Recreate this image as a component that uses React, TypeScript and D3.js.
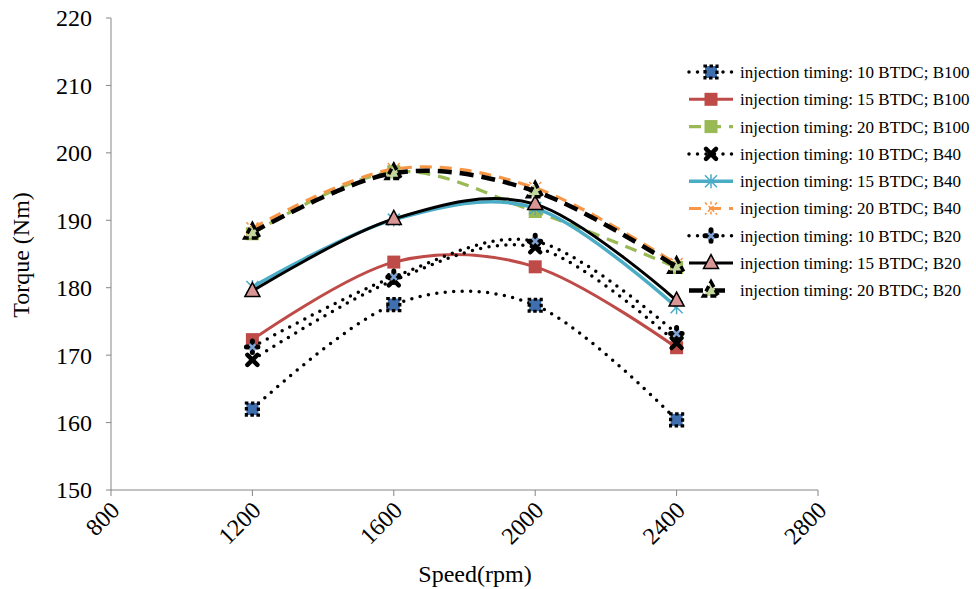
import React from "react";
import * as d3 from "d3";

const speeds = [1200, 1600, 2000, 2400];
const xTicks = [800, 1200, 1600, 2000, 2400, 2800];
const yTicks = [150, 160, 170, 180, 190, 200, 210, 220];

const t10B100 = [162.0, 177.5, 177.4, 160.4];
const t15B100 = [172.3, 183.8, 183.1, 171.1];
const t20B100 = [188.0, 197.2, 191.3, 183.0];
const t10B40 = [169.3, 181.1, 186.0, 171.8];
const t15B40 = [180.1, 190.1, 191.8, 177.1];
const t20B40 = [188.8, 197.6, 194.8, 183.5];
const t10B20 = [171.2, 181.6, 186.9, 173.2];
const t15B20 = [179.5, 190.2, 192.4, 178.1];
const t20B20 = [188.2, 197.0, 194.3, 183.1];

const seriesNames = [
  "injection timing: 10 BTDC; B100",
  "injection timing: 15 BTDC; B100",
  "injection timing: 20 BTDC; B100",
  "injection timing: 10 BTDC; B40",
  "injection timing: 15 BTDC; B40",
  "injection timing: 20 BTDC; B40",
  "injection timing: 10 BTDC; B20",
  "injection timing: 15 BTDC; B20",
  "injection timing: 20 BTDC; B20",
];

type Style = {
  color: string;
  width: number;
  dash: string;
  cap: "round" | "butt";
  marker: string;
};

const styles: Style[] = [
  { color: "#000", width: 3.5, dash: "0 8.5", cap: "round", marker: "sqDot" },
  { color: "#BE4B48", width: 3, dash: "", cap: "butt", marker: "sqRed" },
  { color: "#98B954", width: 3.2, dash: "12 8", cap: "butt", marker: "sqGreen" },
  { color: "#000", width: 3.5, dash: "0 8.5", cap: "round", marker: "xBlack" },
  { color: "#4AACC5", width: 3.5, dash: "", cap: "butt", marker: "starCyan" },
  { color: "#F79646", width: 3.2, dash: "12 8", cap: "butt", marker: "starOrange" },
  { color: "#000", width: 3.5, dash: "0 8.5", cap: "round", marker: "plusDot" },
  { color: "#000", width: 3, dash: "", cap: "butt", marker: "triPink" },
  { color: "#000", width: 4.5, dash: "14 8", cap: "butt", marker: "triDash" },
];

const data = [t10B100, t15B100, t20B100, t10B40, t15B40, t20B40, t10B20, t15B20, t20B20];

const x = d3.scaleLinear().domain([800, 2800]).range([111, 818]);
const y = d3.scaleLinear().domain([150, 220]).range([490, 18]);

const lineGen = d3
  .line<[number, number]>()
  .x((d) => x(d[0]))
  .y((d) => y(d[1]))
  .curve(d3.curveCardinal.tension(0));

function Marker({ type, cx, cy }: { type: string; cx: number; cy: number }) {
  switch (type) {
    case "sqDot":
      return (
        <g>
          <rect x={cx - 6} y={cy - 6} width={12} height={12} fill="#3F6FAE" />
          <rect x={cx - 6} y={cy - 6} width={12} height={12} fill="none" stroke="#000" strokeWidth={3.2} strokeDasharray="3.5 2.5" strokeDashoffset={1.5} />
        </g>
      );
    case "sqRed":
      return <rect x={cx - 6.5} y={cy - 6.5} width={13} height={13} fill="#BE4B48" />;
    case "sqGreen":
      return <rect x={cx - 6} y={cy - 6} width={12} height={12} fill="#98B954" stroke="#98B954" strokeWidth={1} />;
    case "xBlack":
      return (
        <path d={`M${cx - 5},${cy - 5}L${cx + 5},${cy + 5}M${cx + 5},${cy - 5}L${cx - 5},${cy + 5}`} stroke="#000" strokeWidth={4.5} strokeLinecap="round" />
      );
    case "starCyan":
      return (
        <path d={`M${cx - 6},${cy - 6}L${cx + 6},${cy + 6}M${cx + 6},${cy - 6}L${cx - 6},${cy + 6}M${cx},${cy - 7}L${cx},${cy + 7}`} stroke="#4AACC5" strokeWidth={1.5} />
      );
    case "starOrange":
      return (
        <path d={`M${cx - 6},${cy - 6}L${cx + 6},${cy + 6}M${cx + 6},${cy - 6}L${cx - 6},${cy + 6}M${cx},${cy - 7}L${cx},${cy + 7}`} stroke="#F79646" strokeWidth={1.5} strokeDasharray="3 2" />
      );
    case "plusDot":
      return (
        <g>
          <path d={`M${cx},${cy - 6}L${cx},${cy + 6}M${cx - 6},${cy}L${cx + 6},${cy}`} stroke="#000" strokeWidth={5} strokeDasharray="2.5 2" strokeLinecap="round" />
          <path d={`M${cx - 3},${cy - 3}L${cx + 3},${cy + 3}M${cx + 3},${cy - 3}L${cx - 3},${cy + 3}`} stroke="#7FA3D4" strokeWidth={2.5} />
        </g>
      );
    case "triPink":
      return (
        <path d={`M${cx},${cy - 8.5}L${cx + 7.5},${cy + 5.5}L${cx - 7.5},${cy + 5.5}Z`} fill="#D99694" stroke="#000" strokeWidth={1.5} />
      );
    case "triDash":
      return (
        <path d={`M${cx},${cy - 8.5}L${cx + 7.5},${cy + 5.5}L${cx - 7.5},${cy + 5.5}Z`} fill="#C3D69B" stroke="#000" strokeWidth={3.5} strokeDasharray="6 3" />
      );
  }
  return null;
}

const FONT = "Liberation Serif, DejaVu Serif, serif";

export default function App() {
  const legendX0 = 689;
  const legendX1 = 733;
  const legendY0 = 72;
  const legendStep = 27.3;
  return (
    <svg width={976} height={589} style={{ position: "absolute", left: 0, top: 0, background: "#fff", fontFamily: FONT }}>
      <rect width={976} height={589} fill="#fff" />
      {/* axes */}
      <line x1={x(800)} x2={x(800)} y1={y(220)} y2={y(150)} stroke="#868686" strokeWidth={1} />
      <line x1={x(800)} x2={x(2800)} y1={y(150)} y2={y(150)} stroke="#868686" strokeWidth={1} />
      {yTicks.map((t) => (
        <g key={"y" + t}>
          <line x1={x(800) - 5} x2={x(800)} y1={y(t)} y2={y(t)} stroke="#868686" />
          <text x={x(800) - 19} y={y(t)} dy="0.35em" textAnchor="end" fontSize={24} style={{ fontFamily: FONT }}>
            {t}
          </text>
        </g>
      ))}
      {xTicks.map((t) => (
        <g key={"x" + t}>
          <line x1={x(t)} x2={x(t)} y1={y(150)} y2={y(150) + 6} stroke="#868686" />
          <text transform={`translate(${x(t) - 2},${y(150) + 10}) rotate(-45)`} textAnchor="end" dy="0.7em" fontSize={24} style={{ fontFamily: FONT }}>
            {t}
          </text>
        </g>
      ))}
      <text transform={`translate(29,255) rotate(-90)`} textAnchor="middle" fontSize={24} style={{ fontFamily: FONT }}>
        Torque (Nm)
      </text>
      <text x={475} y={582} textAnchor="middle" fontSize={24} style={{ fontFamily: FONT }}>
        Speed(rpm)
      </text>
      {/* series */}
      {data.map((vals, i) => {
        const st = styles[i];
        const pts = speeds.map((s, j) => [s, vals[j]] as [number, number]);
        return (
          <g key={"s" + i}>
            <path d={lineGen(pts) || ""} fill="none" stroke={st.color} strokeWidth={st.width} strokeDasharray={st.dash || undefined} strokeLinecap={st.cap} />
            {pts.map((p, j) => (
              <Marker key={j} type={st.marker} cx={x(p[0])} cy={y(p[1])} />
            ))}
          </g>
        );
      })}
      {/* legend */}
      {seriesNames.map((name, i) => {
        const st = styles[i];
        const ly = legendY0 + i * legendStep;
        return (
          <g key={"l" + i}>
            <line x1={legendX0} x2={legendX1} y1={ly} y2={ly} stroke={st.color} strokeWidth={st.width} strokeDasharray={st.dash || undefined} strokeLinecap={st.cap} />
            <Marker type={st.marker} cx={(legendX0 + legendX1) / 2} cy={ly} />
            <text x={740} y={ly} dy="0.35em" fontSize={17} style={{ fontFamily: FONT }}>
              {name}
            </text>
          </g>
        );
      })}
    </svg>
  );
}
